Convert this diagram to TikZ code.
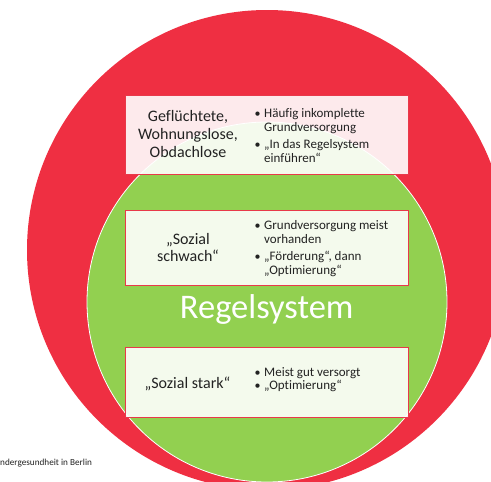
\documentclass[tikz,border=0pt]{standalone}
\usepackage{fontspec}
\setmainfont{Carlito}[Ligatures={NoCommon,TeX}]
\definecolor{redc}{HTML}{EF2F42}
\definecolor{greenc}{HTML}{92D050}
\definecolor{boxline}{HTML}{E8394A}
\definecolor{txt}{HTML}{222222}
\tikzset{
  infobox/.style={draw=boxline, line width=0.8pt, fill=white, fill opacity=0.9},
  lefttxt/.style={anchor=base, inner sep=0pt, text=txt, font=\fontsize{16}{18}\selectfont},
  bul/.style={anchor=base, inner sep=0pt, text=txt, font=\fontsize{12}{14}\selectfont},
  btxt/.style={anchor=base west, inner sep=0pt, text=txt, font=\fontsize{13}{14}\selectfont},
}
\begin{document}
\begin{tikzpicture}[x=1pt,y=-1pt]
\useasboundingbox (0,0) rectangle (491,482);
\clip (0,0) rectangle (491,482);
% circles
\fill[redc] (267,250) circle [radius=240pt];
\draw[white, line width=0.8pt, fill=greenc] (267,302) circle [radius=180pt];
% boxes
\path[infobox] (125,95) rectangle (408,174);
\path[infobox] (125,210) rectangle (408,285);
\path[infobox] (125,347) rectangle (408,417);
% box 1
\node[lefttxt] (g1) at (188,121.5) {Geflüchtete,};
\node[lefttxt] (g2) at (188,139.3) {Wohnungslose,};
\node[lefttxt] (g3) at (188,157) {Obdachlose};
\node[bul] (b11) at (257.7,117.7) {•};
\node[btxt] (t11) at (264,117.7) {Häufig inkomplette};
\node[btxt] (t12) at (264,131.7) {Grundversorgung};
\node[bul] (b12) at (257.7,148.3) {•};
\node[btxt] (t13) at (264,148.3) {„In das Regelsystem};
\node[btxt] (t14) at (264,162) {einführen“};
% box 2
\node[lefttxt] (s1) at (188,244.3) {„Sozial};
\node[lefttxt] (s2) at (188,261) {schwach“};
\node[bul] (b21) at (257.7,229.5) {•};
\node[btxt] (t21) at (264,229.5) {Grundversorgung meist};
\node[btxt] (t22) at (264,243.5) {vorhanden};
\node[bul] (b22) at (257.7,260) {•};
\node[btxt] (t23) at (264,260) {„Förderung“, dann};
\node[btxt] (t24) at (264,274) {„Optimierung“};
% regelsystem
\node[anchor=base, inner sep=0pt, text=white, font=\fontsize{34.5}{40}\selectfont] (rs) at (266.7,318) {Regelsystem};
% box 3
\node[lefttxt] (st) at (187.5,388.3) {„Sozial stark“};
\node[bul] (b31) at (257.7,376.7) {•};
\node[btxt] (t31) at (264,376.7) {Meist gut versorgt};
\node[bul] (b32) at (257.7,389.5) {•};
\node[btxt] (t32) at (264,389.5) {„Optimierung“};
% footer
\node[anchor=base west, inner sep=0pt, text=txt, font=\fontsize{9.2}{11}\selectfont] (ft) at (0,465.7) {ndergesundheit in Berlin};
\end{tikzpicture}
\end{document}
